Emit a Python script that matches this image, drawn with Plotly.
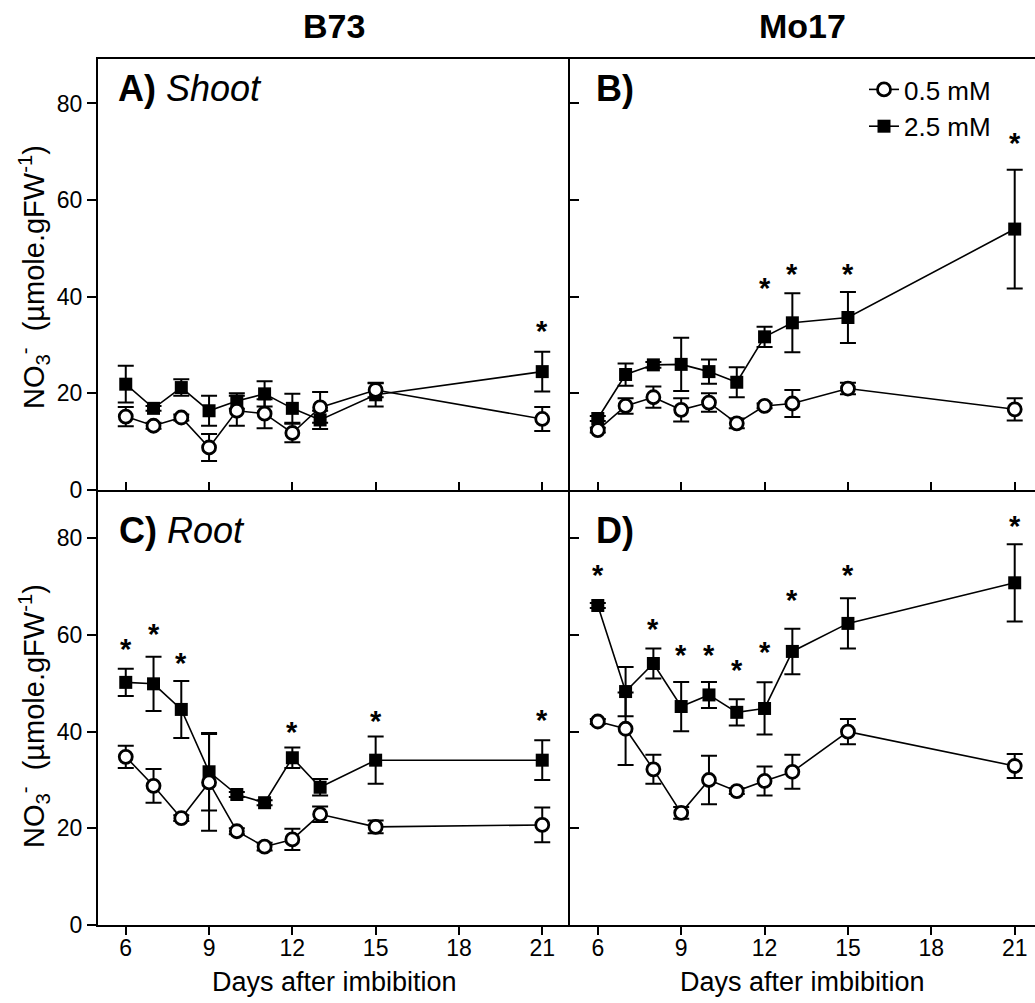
import plotly.graph_objects as go

# ---------------- data ----------------
days = [6, 7, 8, 9, 10, 11, 12, 13, 15, 21]

A_low = [15.2, 13.3, 15.0, 8.8, 16.4, 15.8, 11.8, 17.1, 20.7, 14.7]
A_low_err = [2.0, 0.6, 0.6, 2.8, 3.1, 3.0, 1.9, 3.2, 1.5, 2.5]
A_high = [21.9, 16.9, 21.2, 16.4, 18.4, 19.9, 16.9, 14.5, 19.7, 24.5]
A_high_err = [3.8, 0.5, 1.7, 3.1, 1.6, 2.6, 3.0, 1.9, 2.4, 4.1]
A_star_days = [21]
A_star_y = [34.5]

B_low = [12.4, 17.4, 19.2, 16.6, 18.1, 13.8, 17.4, 17.9, 21.0, 16.7]
B_low_err = [0.5, 1.6, 2.2, 2.4, 1.9, 1.0, 0.5, 2.8, 1.2, 2.3]
B_high = [14.8, 23.9, 25.9, 26.0, 24.5, 22.3, 31.7, 34.6, 35.7, 54.0]
B_high_err = [0.5, 2.3, 0.6, 5.5, 2.5, 3.1, 2.1, 6.1, 5.3, 12.3]
B_star_days = [12, 13, 15, 21]
B_star_y = [43.4, 46.3, 46.3, 73.4]

C_low = [34.8, 28.8, 22.1, 29.5, 19.4, 16.2, 17.7, 22.9, 20.3, 20.7]
C_low_err = [2.3, 3.5, 0.6, 10.0, 0.6, 0.8, 2.2, 1.6, 1.3, 3.6]
C_high = [50.2, 49.9, 44.6, 31.7, 27.0, 25.3, 34.6, 28.5, 34.1, 34.1]
C_high_err = [2.8, 5.6, 5.9, 8.0, 0.5, 0.5, 2.1, 1.7, 4.9, 4.1]
C_star_days = [6, 7, 8, 12, 15, 21]
C_star_y = [58.8, 61.9, 55.9, 41.5, 43.8, 44.1]

D_low = [42.1, 40.6, 32.2, 23.2, 30.0, 27.7, 29.8, 31.7, 40.0, 32.9]
D_low_err = [0.5, 7.5, 3.0, 1.2, 5.0, 0.6, 3.0, 3.5, 2.6, 2.5]
D_high = [66.1, 48.3, 54.1, 45.2, 47.6, 44.0, 44.8, 56.6, 62.4, 70.8]
D_high_err = [0.5, 5.1, 3.1, 5.1, 2.7, 2.7, 5.4, 4.7, 5.2, 8.0]
D_star_days = [6, 8, 9, 10, 11, 12, 13, 15, 21]
D_star_y = [74.1, 62.8, 57.6, 57.6, 54.5, 58.1, 68.8, 74.1, 84.3]

x_ticks = [6, 9, 12, 15, 18, 21]
y_ticks = [0, 20, 40, 60, 80]
series_names = ["0.5 mM", "2.5 mM"]
col_titles = ["B73", "Mo17"]
panel_labels = ["<b>A)</b> <i>Shoot</i>", "<b>B)</b>", "<b>C)</b> <i>Root</i>", "<b>D)</b>"]
x_title = "Days after imbibition"
y_title = "NO<sub>3</sub><sup>-</sup>  (µmole.gFW<sup>-1</sup>)"

FONT = "Liberation Sans, Arial, sans-serif"

# ---------------- geometry (pixels) ----------------
W, H = 1035, 1003
ML, MR, MT, MB = 98, 0, 59, 78
PW, PH = W - ML - MR, H - MT - MB


def px(x):
    return (x - ML) / PW


def py(y):
    return (H - MB - y) / PH


xd_left = [0, px(570)]
xd_right = [px(570), 1.0]
yd_top = [py(490), 1.0]
yd_bot = [0, py(490)]

panels = [
    ("x", "y", A_low, A_low_err, A_high, A_high_err, A_star_days, A_star_y),
    ("x2", "y2", B_low, B_low_err, B_high, B_high_err, B_star_days, B_star_y),
    ("x3", "y3", C_low, C_low_err, C_high, C_high_err, C_star_days, C_star_y),
    ("x4", "y4", D_low, D_low_err, D_high, D_high_err, D_star_days, D_star_y),
]

fig = go.Figure()
annotations = []
for i, (xa, ya, lo, lo_e, hi, hi_e, sd, sy) in enumerate(panels):
    show = (i == 1)
    fig.add_trace(go.Scatter(
        x=days, y=hi, xaxis=xa, yaxis=ya, mode="lines+markers", name=series_names[1],
        showlegend=show, legendrank=2,
        line=dict(color="black", width=1.6),
        marker=dict(symbol="square", size=13, color="black", line=dict(width=0)),
        error_y=dict(type="data", array=hi_e, visible=True, color="black", thickness=2, width=8),
    ))
    fig.add_trace(go.Scatter(
        x=days, y=lo, xaxis=xa, yaxis=ya, mode="lines+markers", name=series_names[0],
        showlegend=show, legendrank=1,
        line=dict(color="black", width=1.6),
        marker=dict(symbol="circle", size=13, color="white", line=dict(width=2.8, color="black")),
        error_y=dict(type="data", array=lo_e, visible=True, color="black", thickness=2, width=8),
    ))
    for dx, dy in zip(sd, sy):
        annotations.append(dict(x=dx, y=dy, xref=xa, yref=ya, text="<b>*</b>", showarrow=False,
                                font=dict(family=FONT, size=29, color="black"), yshift=-8))

common_axis = dict(showline=True, linecolor="black", linewidth=2, showgrid=False, zeroline=False,
                   tickwidth=2, tickcolor="black",
                   tickfont=dict(family=FONT, size=23, color="black"))


def xax(domain, rng, anchor, bottom, mirror):
    d = dict(common_axis)
    d.update(domain=domain, range=rng, anchor=anchor, tickvals=x_ticks, ticklen=8,
             ticks="outside" if bottom else "inside", showticklabels=bottom, mirror=mirror,
             ticklabelstandoff=-7)
    return d


def yax(domain, rng, anchor, left):
    d = dict(common_axis)
    d.update(domain=domain, range=rng, anchor=anchor, tickvals=y_ticks, ticklen=9,
             ticks="outside" if left else "inside", showticklabels=left, mirror=False)
    return d


fig.update_layout(
    xaxis=xax(xd_left, [5, 22], "y", False, True),
    yaxis=yax(yd_top, [0, 89.2], "x", True),
    xaxis2=xax(xd_right, [5, 21.73], "y2", False, True),
    yaxis2=yax(yd_top, [0, 89.2], "x2", False),
    xaxis3=xax(xd_left, [5, 22], "y3", True, False),
    yaxis3=yax(yd_bot, [0, 90], "x3", True),
    xaxis4=xax(xd_right, [5, 21.73], "y4", True, False),
    yaxis4=yax(yd_bot, [0, 90], "x4", False),
)

# column titles and x titles
for xc, t in zip([(xd_left[0] + xd_left[1]) / 2, (xd_right[0] + xd_right[1]) / 2], col_titles):
    annotations.append(dict(x=xc, y=py(26), xref="paper", yref="paper", text="<b>%s</b>" % t,
                            showarrow=False, font=dict(family=FONT, size=34, color="black"),
                            xanchor="center", yanchor="middle"))
    annotations.append(dict(x=xc, y=py(982), xref="paper", yref="paper", text=x_title,
                            showarrow=False, font=dict(family=FONT, size=27, color="black"),
                            xanchor="center", yanchor="middle"))

# y titles
for yc in [py(277), py(716)]:
    annotations.append(dict(x=px(34), y=yc, xref="paper", yref="paper", text=y_title, textangle=-90,
                            showarrow=False, font=dict(family=FONT, size=29, color="black"),
                            xanchor="center", yanchor="middle"))

# panel labels
label_pos = [(px(116), py(88)), (px(594), py(88)), (px(117), py(530)), (px(594), py(530))]
for (lx, ly), lab in zip(label_pos, panel_labels):
    annotations.append(dict(x=lx, y=ly, xref="paper", yref="paper", text=lab, showarrow=False,
                            font=dict(family=FONT, size=36, color="black"),
                            xanchor="left", yanchor="middle"))

fig.update_layout(
    annotations=annotations,
    width=W, height=H,
    margin=dict(l=ML, r=MR, t=MT, b=MB),
    paper_bgcolor="white", plot_bgcolor="white",
    showlegend=True,
    legend=dict(x=px(864), y=py(66), xanchor="left", yanchor="top", bgcolor="rgba(0,0,0,0)",
                font=dict(family=FONT, size=26, color="black"), itemwidth=30),
)

fig.write_html("out.html", config={"displayModeBar": False},
               post_script="document.body.style.margin='0px';")
